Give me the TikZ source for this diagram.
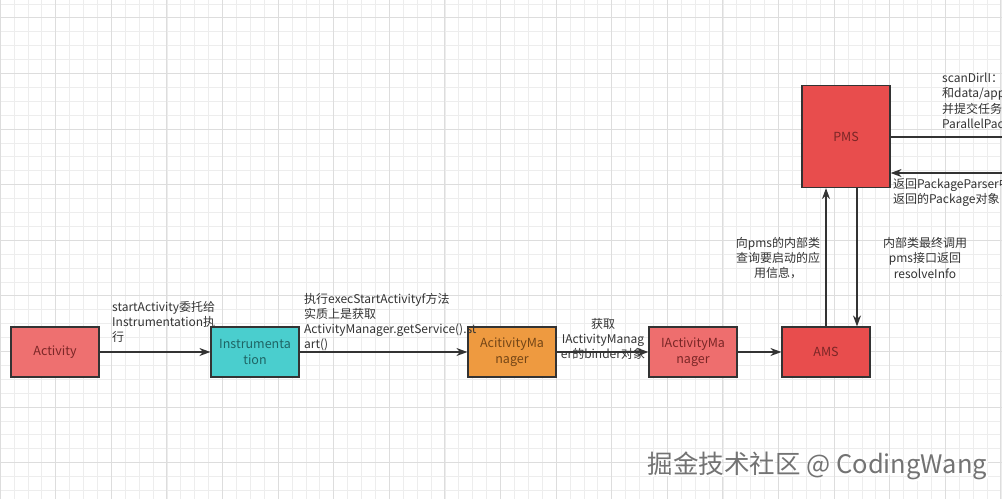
\documentclass[tikz,border=0pt]{standalone}
\usepackage{fontspec}
\setmainfont{Noto Sans CJK SC}
\usetikzlibrary{arrows.meta}
\definecolor{gminor}{HTML}{EDEDED}
\definecolor{gmajor}{HTML}{DDDDDD}
\definecolor{edge}{HTML}{333333}
\definecolor{cAct}{HTML}{EE7070}
\definecolor{cIns}{HTML}{4ACECE}
\definecolor{cAM}{HTML}{EE9A40}
\definecolor{cIAM}{HTML}{EE6E6E}
\definecolor{cAMS}{HTML}{E84D4D}
\definecolor{tRed}{HTML}{7A2626}
\definecolor{tTeal}{HTML}{1E6464}
\definecolor{tOr}{HTML}{734516}
\definecolor{lbl}{HTML}{333333}
\tikzset{
  boxnode/.style={draw=edge, line width=1.2pt, minimum width=88pt, minimum height=50pt,
    inner sep=1pt, align=center, font=\fontsize{12.5}{16}\selectfont},
  conn/.style={draw=edge, line width=1.4pt, -{Stealth[length=11pt,width=8pt]}},
  plain/.style={draw=edge, line width=1.4pt},
  lab/.style={text=lbl, inner sep=0pt, font=\fontsize{12}{15.2}\selectfont},
}
\begin{document}
\begin{tikzpicture}[x=1pt,y=-1pt]
\useasboundingbox (0,0) rectangle (1002,499);
\fill[white] (0,0) rectangle (1002,499);
\begin{scope}
\clip (0,0) rectangle (1002,499);
% grid
\foreach \i in {0,...,72} {
  \draw[gminor, line width=0.6pt] ({\i*13.9},0) -- ({\i*13.9},499);
}
\foreach \j in {-1,...,36} {
  \draw[gminor, line width=0.6pt] (0,{3.8+\j*13.9}) -- (1002,{3.8+\j*13.9});
}
\foreach \i in {0,...,18} {
  \draw[gmajor, line width=0.8pt] ({\i*55.6},0) -- ({\i*55.6},499);
}
\foreach \j in {0,...,9} {
  \draw[gmajor, line width=0.8pt] (0,{17.7+\j*55.6}) -- (1002,{17.7+\j*55.6});
}

% boxes
\node[boxnode, fill=cAct, text=tRed] (act) at (55,352) {Activity};
\node[boxnode, fill=cIns, text=tTeal] (ins) at (255,352) {Instrumenta\\tion};
\node[boxnode, fill=cAM, text=tOr] (am) at (512,352) {AcitivityMa\\nager};
\node[boxnode, fill=cIAM, text=tRed] (iam) at (693,352) {IActivityMa\\nager};
\node[boxnode, fill=cAMS, text=tRed] (ams) at (826,352) {AMS};
\node[boxnode, fill=cAMS, text=tRed, minimum height=102pt] (pms) at (846,136.5) {PMS};

\coordinate (r1) at (1012,137);
\coordinate (r2) at (1012,173);

% connectors
\draw[conn] (act) -- (ins);
\draw[conn] (ins) -- (am);
\draw[conn] (am) -- (iam);
\draw[conn] (iam) -- (ams);
\draw[conn] (ams.north) -- (ams.north |- pms.south);
\draw[conn] ([xshift=31pt]ams.north |- pms.south) -- ([xshift=31pt]ams.north);
\draw[plain] (pms.east |- r1) -- (r1);
\draw[conn] (r2) -- (pms.east |- r2);

% labels
\node[lab, anchor=north west, align=left] (l1) at (112,301) {startActivity委托给\\Instrumentation执\\行};
\node[lab, anchor=north west, align=left] (l2) at (304,293) {执行execStartActivityf方法\\实质上是获取\\ActivityManager.getService().st\\art()};
\node[lab, align=center] (l3) at (603,339) {获取\\IActivityManag\\er的binder对象};
\node[lab, align=center] (l4) at (778,258) {向pms的内部类\\查询要启动的应\\用信息，};
\node[lab, align=center] (l5) at (925,258) {内部类最终调用\\pms接口返回\\resolveInfo};
\node[lab, anchor=north west, align=left] (l6) at (942,73) {scanDirlI：\\和data/app\\并提交任务给\\ParallelPackageParser};
\node[lab, anchor=north west, align=left] (l7) at (893,178) {返回PackageParser中\\返回的Package对象};

% watermark
\node[text=white, font=\fontsize{25.5}{28}\selectfont, inner sep=0pt] at (819,467.5) {掘金技术社区 @ CodingWang};
\node[text=black!55, font=\fontsize{25.5}{28}\selectfont, inner sep=0pt] (wm) at (817.5,466) {掘金技术社区 @ CodingWang};
\end{scope}
\end{tikzpicture}
\end{document}
